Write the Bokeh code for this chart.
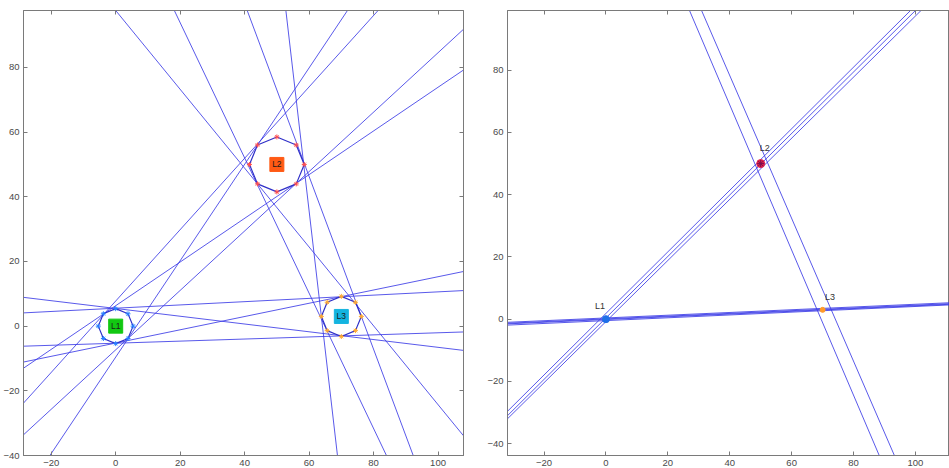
import numpy as np
from bokeh.plotting import figure
from bokeh.layouts import row
from bokeh.models import Range1d, LinearAxis, FixedTicker, ColumnDataSource
from bokeh.core.properties import value
from bokeh.embed import file_html
from bokeh.resources import INLINE

# ---------------- data ----------------
lm_names = ["L1", "L2", "L3"]
lm_x = [0.0, 50.0, 70.0]
lm_y = [0.0, 50.0, 3.0]
lm_r = [5.4, 8.5, 6.2]            # uncertainty octagon radius (left panel)
lm_box_colors = ["#12c812", "#ff5a14", "#14b4e0"]
lm_vertex_colors = ["#2a7fff", "#ff5050", "#ffaa33"]

# left panel: bearing lines (end points)
left_x0 = [0.0, 18.2, 40.8, 52.8, 71.9, 81.4, 107.9, 107.9, -28.6, -28.6, -28.6, -28.6]
left_y0 = [97.6, 97.6, 97.6, 97.6, 97.6, 97.6, 91.8, 79.2, 8.9, 4.1, -6.2, -11.1]
left_x1 = [107.9, 84.0, 92.3, 68.8, -20.4, -28.6, -28.6, -28.6, 107.9, 107.9, 107.9, 107.9]
left_y1 = [-33.9, -40.0, -40.0, -40.0, -40.0, -23.8, -33.6, -13.0, -7.5, 11.0, -1.8, 16.9]

# right panel: refined bearing lines
right_x0 = [-31.8, -31.8, -31.8, 27.0, 30.9, -31.8, -31.8, -31.8, -31.8]
right_y0 = [-29.6, -31.0, -32.0, 99.2, 99.2, -1.0, -1.5, -1.9, -1.3]
right_x1 = [98.4, 100.0, 101.8, 88.3, 93.2, 111.3, 111.3, 111.3, 111.3]
right_y1 = [99.2, 99.2, 99.2, -43.8, -43.8, 5.3, 4.8, 4.6, 5.0]

right_pt_colors = ["#1f6fe8", "#e0204a", "#ff9a2a"]
right_lbl_x = [-1.9, 51.3, 72.4]
right_lbl_y = [2.6, 53.4, 5.6]

x_ticks = [-20, 0, 20, 40, 60, 80, 100]
y_ticks = [-40, -20, 0, 20, 40, 60, 80]

LINE_COLOR = "#3c3ce6"
AX_COLOR = "#7a7a7a"
FONT = "Liberation Sans"


def style(p, sides=("above", "right")):
    p.xgrid.visible = False
    p.ygrid.visible = False
    p.outline_line_color = AX_COLOR
    p.outline_line_width = 1
    p.background_fill_color = "white"
    p.border_fill_color = "white"
    for ax in p.xaxis + p.yaxis:
        ax.axis_line_color = AX_COLOR
        ax.major_tick_line_color = AX_COLOR
        ax.major_tick_in = 4
        ax.major_tick_out = 0
        ax.minor_tick_line_color = None
        ax.major_label_text_font = FONT
        ax.major_label_text_font_size = "9.5px"
        ax.major_label_text_color = "#4a4a4a"
        ax.major_label_standoff = 4
        ax.axis_label_standoff = 0
    p.xaxis.ticker = FixedTicker(ticks=x_ticks)
    p.yaxis.ticker = FixedTicker(ticks=y_ticks)
    for loc in sides:
        tk = x_ticks if loc == "above" else y_ticks
        ax = LinearAxis(ticker=FixedTicker(ticks=tk))
        ax.axis_line_color = AX_COLOR
        ax.major_tick_line_color = AX_COLOR
        ax.major_tick_in = 4
        ax.major_tick_out = 0
        ax.minor_tick_line_color = None
        ax.major_label_text_font_size = "1px"
        ax.major_label_text_color = None
        ax.major_label_standoff = 0
        ax.axis_label_standoff = 0
        p.add_layout(ax, loc)


# ---------------- left panel ----------------
p1 = figure(width=477, height=468, x_range=Range1d(-28.6, 107.9), y_range=Range1d(-40, 97.6),
            output_backend="svg", toolbar_location=None,
            min_border_left=21, min_border_right=14, min_border_top=10, min_border_bottom=13)
style(p1)

p1.segment(x0=left_x0, y0=left_y0, x1=left_x1, y1=left_y1,
           line_color=LINE_COLOR, line_width=1, line_alpha=0.85)

ang = np.deg2rad(np.arange(0, 360, 45))
for i in range(3):
    vx = lm_x[i] + lm_r[i] * np.cos(ang)
    vy = lm_y[i] + lm_r[i] * np.sin(ang)
    p1.patch(x=list(vx), y=list(vy), fill_alpha=0, line_color="#3030c8", line_width=1.2)
    p1.scatter(x=list(vx), y=list(vy), marker="asterisk", size=5,
               line_color=lm_vertex_colors[i], line_width=1)

src = ColumnDataSource(dict(x=lm_x, y=lm_y, c=lm_box_colors, t=lm_names))
p1.scatter(x="x", y="y", source=src, marker="square", size=14, fill_color="c",
           line_color="c")
p1.text(x="x", y="y", text="t", source=src, text_align="center", text_baseline="middle",
        text_font=value(FONT), text_font_size="8.5px", text_color="#1a1a1a")

# ---------------- right panel ----------------
p2 = figure(width=472, height=468, x_range=Range1d(-31.8, 111.0), y_range=Range1d(-43.8, 99.2),
            output_backend="svg", toolbar_location=None,
            min_border_left=30, min_border_right=0, min_border_top=8, min_border_bottom=13)
style(p2, sides=("above",))

p2.segment(x0=right_x0, y0=right_y0, x1=right_x1, y1=right_y1,
           line_color=LINE_COLOR, line_width=1, line_alpha=0.85)
p2.scatter(x=lm_x, y=lm_y, marker="circle", size=[7, 8, 5], fill_color=right_pt_colors,
           line_color=right_pt_colors)
p2.scatter(x=[lm_x[1]], y=[lm_y[1]], marker="asterisk", size=7, line_color="#7a1050", line_width=1)
p2.text(x=right_lbl_x, y=right_lbl_y, text=lm_names, text_align="center", text_baseline="bottom",
        text_font=value(FONT), text_font_size="9px", text_color="#333333")

layout = row(p1, p2)
open("out.html", "w").write(file_html(layout, INLINE))
